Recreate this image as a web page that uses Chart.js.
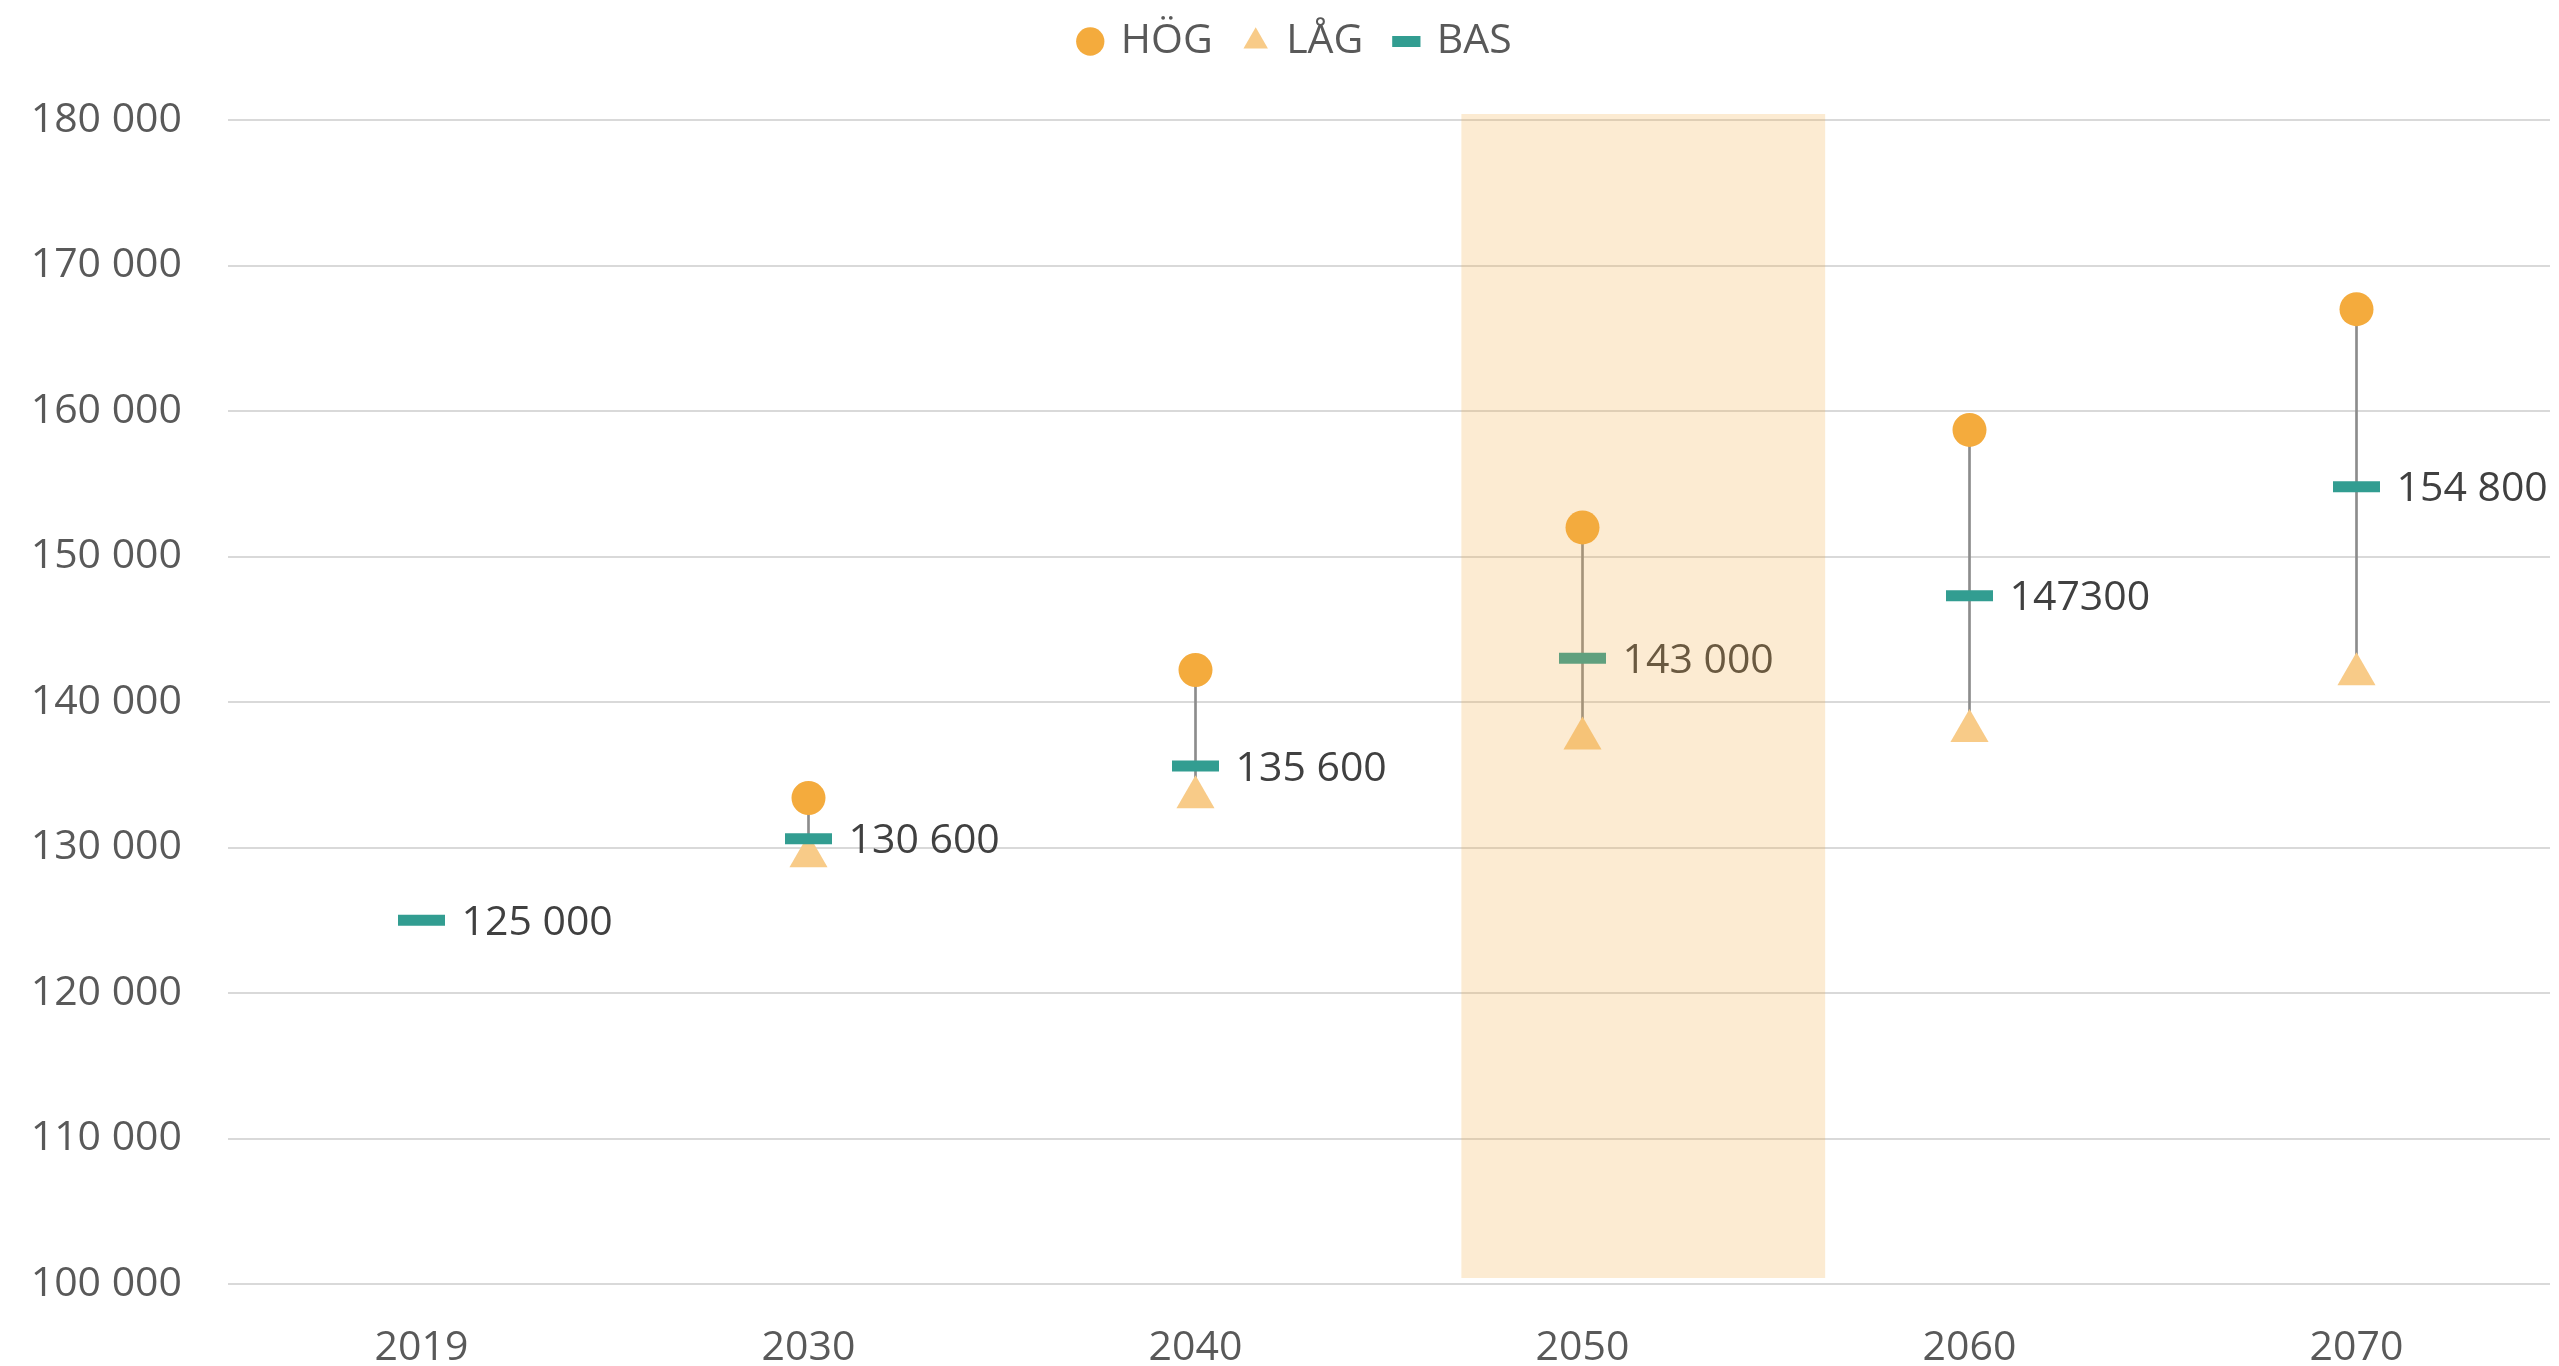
<!DOCTYPE html>
<html>
<head>
<meta charset="utf-8">
<script src="https://cdn.jsdelivr.net/npm/chart.js@4"></script>
<style>
  html, body { margin: 0; padding: 0; background: #ffffff; }
  #wrap { width: 2559px; height: 1366px; }
</style>
</head>
<body>
<div id="wrap"><canvas id="chart" width="2559" height="1366"></canvas></div>
<script>
// years on the x axis
const years = ['2019', '2030', '2040', '2050', '2060', '2070'];
// scenario values
const hog = [null, 133400, 142200, 152000, 158700, 167000];
const lag = [null, 129400, 133450, 137500, 138000, 141900];
const bas = [125000, 130600, 135600, 143000, 147300, 154800];
// labels printed next to the BAS marker
const basLabels = ['125 000', '130 600', '135 600', '143 000', '147300', '154 800'];
// y axis ticks
const yMin = 100000;
const yMax = 180000;
const yStep = 10000;
// legend order
const legendOrder = ['HÖG', 'LÅG', 'BAS'];

const font = "'Open Sans', 'DejaVu Sans', sans-serif";

// span from LÅG to HÖG, drawn as a thin floating bar
const spans = years.map((y, i) => (hog[i] == null || lag[i] == null) ? null : [lag[i], hog[i]]);

const basLabelPlugin = {
  id: 'basLabels',
  afterDatasetsDraw(chart) {
    const idx = chart.data.datasets.findIndex(d => d.label === 'BAS');
    const meta = chart.getDatasetMeta(idx);
    const ctx = chart.ctx;
    ctx.save();
    ctx.font = '41px ' + font;
    ctx.fillStyle = '#404040';
    ctx.textAlign = 'left';
    ctx.textBaseline = 'middle';
    meta.data.forEach((pt, i) => {
      ctx.fillText(basLabels[i], pt.x + 40, pt.y + 3);
    });
    ctx.restore();
  }
};

// highlighted band around 2050, drawn on top with transparency
const bandPlugin = {
  id: 'band',
  afterDatasetsDraw(chart) {
    const x = chart.scales.x;
    const area = chart.chartArea;
    const catW = (area.right - area.left) / years.length;
    const cx = x.getPixelForValue(3);
    const ctx = chart.ctx;
    ctx.save();
    ctx.fillStyle = 'rgba(242,170,68,0.24)';
    const left = cx - 0.313 * catW;
    const right = cx + 0.627 * catW;
    ctx.fillRect(left, area.top - 6, right - left, area.bottom - area.top);
    ctx.restore();
  }
};

// legend sits a little right of the canvas centre
const legendShift = {
  id: 'legendShift',
  afterLayout(chart) {
    if (chart.legend) {
      chart.legend.left += 21;
      chart.legend.right += 21;
    }
  }
};

const ctx = document.getElementById('chart');
new Chart(ctx, {
  data: {
    labels: years,
    datasets: [
      {
        type: 'line',
        label: 'HÖG',
        data: hog,
        showLine: false,
        pointStyle: 'circle',
        pointRadius: 17,
        pointHoverRadius: 17,
        pointBackgroundColor: '#F4AB3D',
        pointBorderColor: '#F4AB3D',
        pointBorderWidth: 0,
        order: 1
      },
      {
        type: 'line',
        label: 'LÅG',
        data: lag,
        showLine: false,
        pointStyle: 'triangle',
        pointRadius: 22,
        pointHoverRadius: 22,
        pointBackgroundColor: '#F8CB88',
        pointBorderColor: '#F8CB88',
        pointBorderWidth: 0,
        order: 2
      },
      {
        type: 'line',
        label: 'BAS',
        data: bas,
        showLine: false,
        pointStyle: 'line',
        pointRadius: 23.5,
        pointHoverRadius: 23.5,
        pointBackgroundColor: '#329D91',
        pointBorderColor: '#329D91',
        pointBorderWidth: 11,
        order: 0
      },
      {
        type: 'bar',
        label: 'span',
        data: spans,
        backgroundColor: '#8C8C8C',
        barThickness: 2,
        borderWidth: 0,
        order: 10
      }
    ]
  },
  options: {
    responsive: false,
    animation: false,
    layout: { autoPadding: false, padding: { left: 0, right: 9, top: -12, bottom: 0 } },
    plugins: {
      tooltip: { enabled: false },
      legend: {
        position: 'top',
        labels: {
          usePointStyle: true,
          boxHeight: 20,
          boxWidth: 20,
          padding: 33,
          color: '#595959',
          font: { family: font, size: 41 },
          filter: item => item.text !== 'span',
          sort: (a, b) => legendOrder.indexOf(a.text) - legendOrder.indexOf(b.text)
        }
      }
    },
    scales: {
      x: {
        type: 'category',
        offset: true,
        grid: { display: false, drawTicks: false },
        border: { display: false },
        ticks: {
          color: '#595959',
          font: { family: font, size: 41 },
          padding: 40,
          maxRotation: 0
        },
        afterFit(scale) {
          scale.height = 82;
        }
      },
      // empty strip between legend and plot area
      xTop: {
        type: 'category',
        position: 'top',
        grid: { display: false, drawTicks: false },
        border: { display: false },
        ticks: { display: false },
        afterFit(scale) {
          scale.height = 48;
        }
      },
      y: {
        min: yMin,
        max: yMax,
        grid: { color: '#D9D9D9', lineWidth: 2, drawTicks: false },
        border: { display: false },
        ticks: {
          stepSize: yStep,
          color: '#595959',
          font: { family: font, size: 41 },
          padding: 46,
          callback: v => String(v).replace(/\B(?=(\d{3})+(?!\d))/g, ' ')
        },
        afterFit(scale) { scale.width = 228; }
      }
    }
  },
  plugins: [basLabelPlugin, bandPlugin, legendShift]
});
</script>
</body>
</html>
